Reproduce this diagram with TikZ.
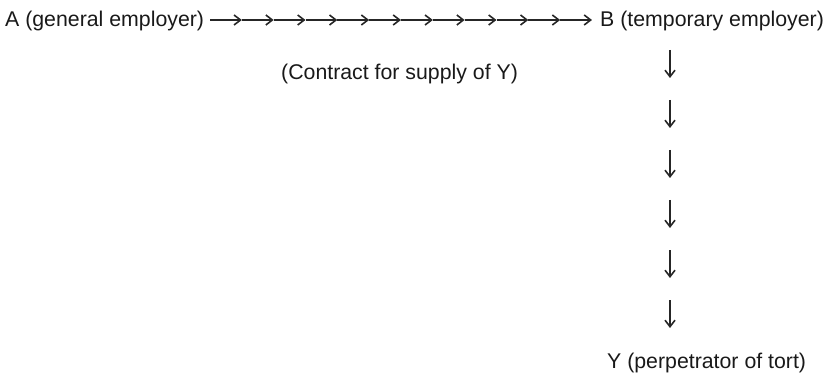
\documentclass[tikz,border=0pt]{standalone}
\usepackage{fontspec}
\setmainfont{Liberation Sans}
\usetikzlibrary{arrows.meta,calc}
\begin{document}
\begin{tikzpicture}[x=1pt,y=-1pt,
  lbl/.style={anchor=base west,inner sep=0pt,font=\fontsize{21.3}{25}\selectfont,text=black!90},
  chainarrow/.style={line width=1.3pt,draw=black!85,-{Straight Barb[length=6.5pt,width=10pt,line width=1.6pt]}}]
\useasboundingbox (0,0) rectangle (828,377);
\node[lbl] (A) at (5,27) {A (general employer)};
\node[lbl] (B) at (600,27) {B (temporary employer)};
\node[lbl] (C) at (281,80) {(Contract for supply of Y)};
\node[lbl] (Y) at (607,368) {Y (perpetrator of tort)};
\coordinate (hs) at (210,20);
\coordinate (he) at (592,20);
\foreach \i in {0,...,11}{
  \draw[chainarrow] ($(hs)!\i/12!(he)$) -- ($(hs)!\i/12+1/12!(he)$);
}
\coordinate (vs) at (670,50);
\foreach \i in {0,...,5}{
  \draw[chainarrow] ($(vs)+(0,50*\i)$) -- ($(vs)+(0,50*\i+28)$);
}
\end{tikzpicture}
\end{document}
